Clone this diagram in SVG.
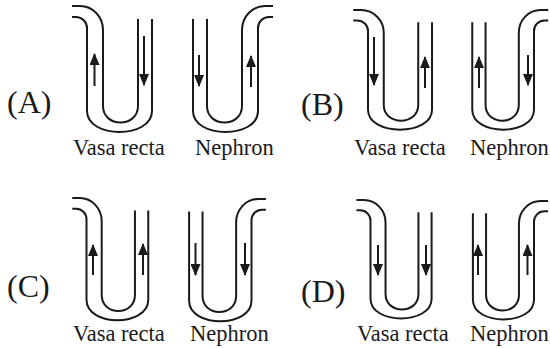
<svg xmlns="http://www.w3.org/2000/svg" xmlns:xlink="http://www.w3.org/1999/xlink" width="550" height="348" viewBox="0 0 550 348">
  <style>
    .tube { fill: none; stroke: #1a1a1a; stroke-width: 2; vector-effect: non-scaling-stroke; }
    .flow { stroke: #1a1a1a; stroke-width: 2; marker-end: url(#head); }
    .opt { font-family: "Liberation Serif", "Times New Roman", serif; font-size: 32px; fill: #1a1a1a; }
    .lbl { font-family: "Liberation Serif", "Times New Roman", serif; font-size: 22.5px; fill: #1a1a1a; }
  </style>
  <defs>
    <!-- Hairpin loop: left arm hooks outward at the top, right arm is straight.
         Origin = outer wall of the hooked arm, top of the hook. -->
    <g id="loop">
      <path class="tube" d="M-15,0 L-7,0 A23,24 0 0 1 16,24 L16,100 C16,122 51,122 51,100 L51,13"/>
      <path class="tube" d="M-15,11 L-11,11 A11,11 0 0 1 0,22 L0,105 C0,133 65,133 65,105 L65,13"/>
    </g>
    <marker id="head" viewBox="0 0 12 10" refX="11" refY="5" markerWidth="12" markerHeight="10" markerUnits="userSpaceOnUse" orient="auto">
      <path d="M0,0 L12,5 L0,10 Z" fill="#1a1a1a"/>
    </marker>
  </defs>

  <!-- Option A -->
  <g id="option-a">
    <text class="opt" x="7" y="112.5">(A)</text>
    <g id="a-vasa"><use xlink:href="#loop" transform="translate(87,6)"/></g>
    <g id="a-nephron"><use xlink:href="#loop" transform="translate(258,6) scale(-1,1)"/></g>
    <text class="lbl" x="73" y="155">Vasa recta</text>
    <text class="lbl" x="195" y="155">Nephron</text>
  </g>

  <!-- Option B -->
  <g id="option-b">
    <text class="opt" x="301" y="115">(B)</text>
    <g id="b-vasa"><use xlink:href="#loop" transform="translate(368,10) scale(0.985,0.95)"/></g>
    <g id="b-nephron"><use xlink:href="#loop" transform="translate(534,10) scale(-0.95,0.95)"/></g>
    <text class="lbl" x="354" y="155">Vasa recta</text>
    <text class="lbl" x="470" y="155">Nephron</text>
  </g>

  <!-- Option C -->
  <g id="option-c">
    <text class="opt" x="7" y="297">(C)</text>
    <g id="c-vasa"><use xlink:href="#loop" transform="translate(86.5,198) scale(0.95,0.97)"/></g>
    <g id="c-nephron"><use xlink:href="#loop" transform="translate(251.5,199) scale(-0.96,0.97)"/></g>
    <text class="lbl" x="73" y="340.5">Vasa recta</text>
    <text class="lbl" x="190" y="340.5">Nephron</text>
  </g>

  <!-- Option D -->
  <g id="option-d">
    <text class="opt" x="301" y="302">(D)</text>
    <g id="d-vasa"><use xlink:href="#loop" transform="translate(370.5,200) scale(0.94,0.94)"/></g>
    <g id="d-nephron"><use xlink:href="#loop" transform="translate(534,201) scale(-0.94,0.94)"/></g>
    <text class="lbl" x="357" y="340.5">Vasa recta</text>
    <text class="lbl" x="470" y="340.5">Nephron</text>
  </g>

  <!-- Flow-direction arrows -->
  <g id="connectors">
    <line class="flow" x1="94.5" y1="86" x2="94.5" y2="54"/>
    <line class="flow" x1="144" y1="36" x2="144" y2="85"/>
    <line class="flow" x1="199" y1="55" x2="199" y2="86"/>
    <line class="flow" x1="251" y1="87" x2="251" y2="56"/>

    <line class="flow" x1="374" y1="37" x2="374" y2="85"/>
    <line class="flow" x1="425" y1="88" x2="425" y2="57"/>
    <line class="flow" x1="479" y1="88" x2="479" y2="57"/>
    <line class="flow" x1="528" y1="55" x2="528" y2="85"/>

    <line class="flow" x1="93" y1="275" x2="93" y2="245"/>
    <line class="flow" x1="143" y1="275" x2="143" y2="244"/>
    <line class="flow" x1="195.5" y1="243" x2="195.5" y2="275"/>
    <line class="flow" x1="245" y1="243" x2="245" y2="275"/>

    <line class="flow" x1="378" y1="245" x2="378" y2="275"/>
    <line class="flow" x1="426" y1="245" x2="426" y2="275"/>
    <line class="flow" x1="478" y1="275" x2="478" y2="245"/>
    <line class="flow" x1="527.5" y1="275" x2="527.5" y2="245"/>
  </g>
</svg>
